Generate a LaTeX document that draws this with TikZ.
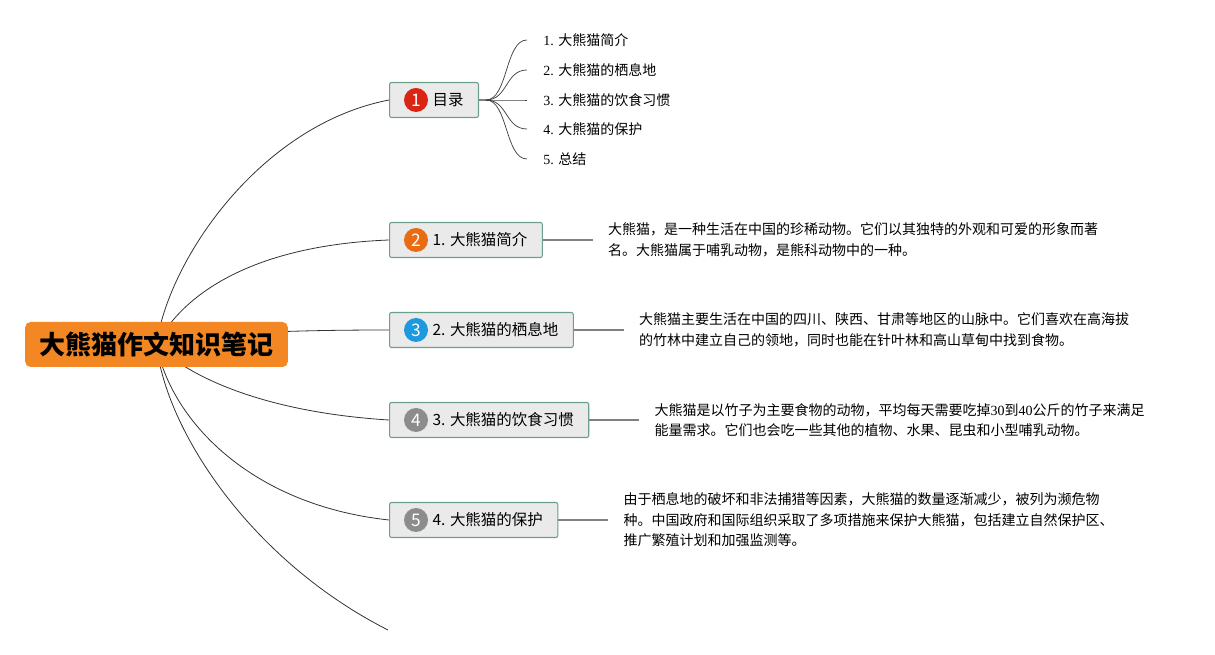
\documentclass[tikz,border=0pt]{standalone}
\usepackage{fontspec}
\setmainfont{Liberation Serif}
\newfontfamily\cjk{Noto Sans CJK SC}
\usepackage{tikz}
\usetikzlibrary{positioning}
\usetikzlibrary{calc,backgrounds}
\definecolor{rootorange}{RGB}{242,135,35}
\definecolor{topicfill}{RGB}{234,234,234}
\definecolor{topicdraw}{RGB}{108,160,138}
\definecolor{iconred}{RGB}{218,37,20}
\definecolor{iconorange}{RGB}{232,108,20}
\definecolor{iconblue}{RGB}{30,152,222}
\definecolor{icongray}{RGB}{140,140,140}
\tikzstyle{root}=[rectangle,rounded corners=4pt,fill=rootorange,minimum width=197pt,minimum height=33.75pt,inner sep=0pt,font=\cjk\bfseries\fontsize{19.5}{22}\selectfont]
\tikzstyle{topic}=[rectangle,rounded corners=1.5pt,fill=topicfill,draw=topicdraw,line width=0.8pt,minimum height=26.25pt,inner xsep=11.25pt,inner ysep=0pt,font=\cjk\fontsize{11.6}{14}\selectfont]
\tikzstyle{icon}=[circle,minimum size=18pt,inner sep=0pt,text=white,font=\cjk\fontsize{13}{13}\selectfont]
\tikzstyle{item}=[inner xsep=12pt,inner ysep=0pt,font=\fontsize{10.5}{12}\selectfont]
\tikzstyle{desc}=[inner xsep=11.25pt,inner ysep=0pt,align=left,font=\cjk\fontsize{10.5}{15.4}\selectfont]
\tikzstyle{branch} = [draw,black!80,line width=0.6pt]
\tikzstyle{twig} = [draw,black!75,line width=0.55pt]
\tikzstyle{link} = [draw,black!50,line width=1.1pt]

\begin{document}
\begin{tikzpicture}[x=0.75pt,y=-0.75pt]
  \useasboundingbox (0,0) rectangle (1215,655);

  \node[root] (root) at (156.5,344.5) {大熊猫作文知识笔记};

  \foreach \name/\y/\col/\num/\label in {toc/100/iconred/1/{目录}, intro/240/iconorange/2/{1. 大熊猫简介}, habitat/330/iconblue/3/{2. 大熊猫的栖息地}, diet/420/icongray/4/{3. 大熊猫的饮食习惯}, protect/520/icongray/5/{4. 大熊猫的保护}}
  {
    \node[topic,anchor=west] (\name) at (389,\y) {\hspace*{21pt}\label};
    \node[icon,fill=\col] (\name-icon) at ($(\name.west)+(27,0)$) {\num};
  }
  \coordinate (blank) at (388,630);

  % branches from the root
  \begin{scope}[on background layer]
    \path[branch] (root.center) .. controls +(12,-85) and +(-129,25) .. (toc.west);
    \path[branch] (root.center) .. controls +(29,-55) and +(-129,5) .. (intro.west);
    \path[branch] (root.center) .. controls +(44,-12) and +(-89,0) .. (habitat.west);
    \path[branch] (root.center) .. controls +(29,30) and +(-129,-8) .. (diet.west);
    \path[branch] (root.center) .. controls +(14,75) and +(-139,-15) .. (protect.west);
    \path[branch] (root.center) .. controls +(9,85) and +(-138,-70) .. (blank);
  \end{scope}

  % table of contents
  \coordinate (tocj) at ($(toc.east)+(7,0)$);
  \path[link] (toc.east) -- (tocj);
  \foreach \i/\y/\label in {1/40/大熊猫简介, 2/70/大熊猫的栖息地, 3/100/大熊猫的饮食习惯, 4/129/大熊猫的保护, 5/159/总结}
  {
    \node[item,anchor=west] (toc-\i) at (527,\y) {\i. {\cjk \label}};
    \path[twig] (tocj) .. controls +(22,0) and +(-22,0) .. (toc-\i.west);
  }

  \foreach \name/\note in {intro/{大熊猫，是一种生活在中国的珍稀动物。它们以其独特的外观和可爱的形象而著\\名。大熊猫属于哺乳动物，是熊科动物中的一种。}, habitat/{大熊猫主要生活在中国的四川、陕西、甘肃等地区的山脉中。它们喜欢在高海拔\\的竹林中建立自己的领地，同时也能在针叶林和高山草甸中找到食物。}, diet/{大熊猫是以竹子为主要食物的动物，平均每天需要吃掉{\rmfamily 30}到{\rmfamily 40}公斤的竹子来满足\\能量需求。它们也会吃一些其他的植物、水果、昆虫和小型哺乳动物。}, protect/{由于栖息地的破坏和非法捕猎等因素，大熊猫的数量逐渐减少，被列为濒危物\\种。中国政府和国际组织采取了多项措施来保护大熊猫，包括建立自然保护区、\\推广繁殖计划和加强监测等。}}
  {
    \node[desc,anchor=west] (\name-txt) at ($(\name.east)+(50,0)$) {\note};
    \path[link] (\name.east) -- (\name-txt.west);
  }

\end{tikzpicture}
\end{document}
